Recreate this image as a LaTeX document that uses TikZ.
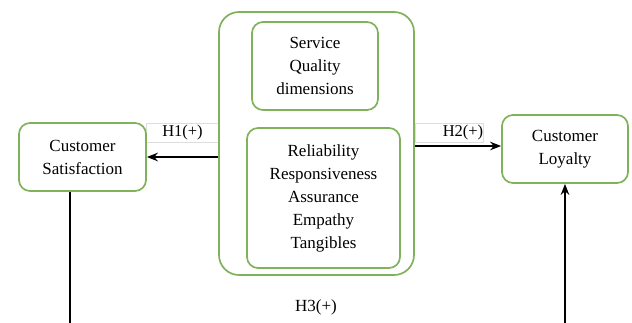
\documentclass[tikz,border=0pt]{standalone}
\usepackage{fontspec}
\setmainfont{Liberation Serif}
\usetikzlibrary{arrows.meta}
\definecolor{boxgreen}{RGB}{128,178,92}
\definecolor{faint}{RGB}{222,222,222}
\begin{document}
\begin{tikzpicture}[x=1pt,y=-1pt,
  gbox/.style={draw=boxgreen,line width=1.7pt,rounded corners=#1,align=center,inner sep=0pt,
    font=\fontsize{17}{23}\selectfont},
  gbox/.default=11pt,
  lbl/.style={font=\fontsize{16.5}{20}\selectfont,inner sep=0pt},
  lblbox/.style={draw=faint,line width=0.6pt,inner sep=0pt},
  arr/.style={line width=1.9pt,-{Stealth[length=11pt,width=8.5pt]}},
  ln/.style={line width=1.9pt}]
\useasboundingbox (0,0) rectangle (632,322);
% label frames (faint)
\node[lblbox,minimum width=73pt,minimum height=19pt] (h1box) at (182.5,132.5) {};
\node[lblbox,minimum width=68pt,minimum height=19pt] (h2box) at (449,132.5) {};
% central boxes
\node[gbox=20pt,minimum width=195pt,minimum height=263pt] (outer) at (316.5,143.5) {};
\node[gbox,minimum width=126pt,minimum height=88pt] (sq) at (315,66) {Service\\Quality\\dimensions};
\node[gbox,minimum width=153pt,minimum height=140pt] (dims) at (323.5,198) {Reliability\\Responsiveness\\Assurance\\Empathy\\Tangibles};
% side boxes
\node[gbox,minimum width=127pt,minimum height=68pt] (cs) at (82.5,157) {Customer\\Satisfaction};
\node[gbox,minimum width=126pt,minimum height=68pt] (cl) at (565,149) {Customer\\Loyalty};
% labels
\node[lbl] (h1) at (182.5,133) {H1(+)};
\node[lbl] (h2) at (463,133) {H2(+)};
\node[lbl,font=\fontsize{17}{20}\selectfont] (h3) at (316,307) {H3(+)};
% connectors
\draw[arr] (outer.west |- cs.east) -- (cs.east);
\coordinate (h2s) at (outer.east |- 0,146);
\coordinate (h2e) at (cl.west |- 0,146);
\draw[arr] (h2s) -- (h2e);
\coordinate (tl) at (70,0 |- cs.south);
\coordinate (bl) at (70,323);
\coordinate (br) at (cl.south |- 0,323);
\draw[ln] (tl) -- (bl);
\draw[arr] (br) -- (cl.south);
\end{tikzpicture}
\end{document}
